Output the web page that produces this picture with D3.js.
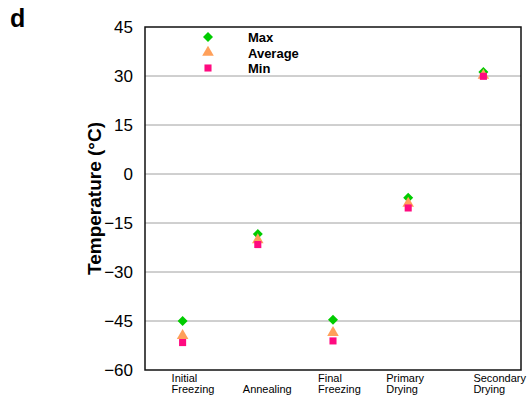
<!DOCTYPE html>
<html>
<head>
<meta charset="utf-8">
<script src="https://cdn.jsdelivr.net/npm/d3@7"></script>
<style>
  body { margin: 0; background: #fff; }
  text { font-family: "Liberation Sans", Arial, sans-serif; }
</style>
</head>
<body>
<div id="graph"></div>
<script>
"use strict";

// data
var stages = ["Initial Freezing", "Annealing", "Final Freezing", "Primary Drying", "Secondary Drying"];
var stageLines = [["Initial", "Freezing"], ["", "Annealing"], ["Final", "Freezing"], ["Primary", "Drying"], ["Secondary", "Drying"]];
var maxTemp = [-45, -18.4, -44.6, -7.3, 31.2];
var avgTemp = [-49.5, -20.2, -48.6, -9.0, 30.2];
var minTemp = [-51.6, -21.6, -51.1, -10.4, 29.9];
var yTicks = [-60, -45, -30, -15, 0, 15, 30, 45];

var width = 530, height = 400;
var margin = {top: 27, left: 145, bottom: 30, right: 9};
var chartWidth = width - margin.left - margin.right;
var chartHeight = height - margin.top - margin.bottom;

var svg = d3.select("#graph").append("svg")
    .attr("width", width)
    .attr("height", height);

var x = d3.scaleBand().domain(stages).range([0, chartWidth]).padding(0);
var y = d3.scaleLinear().domain([-60, 45]).range([chartHeight, 0]);

var chart = svg.append("g")
    .attr("transform", "translate(" + [margin.left, margin.top] + ")");

// gridlines
chart.append("g")
    .selectAll("line")
    .data(yTicks.slice(1, -1))
    .enter().append("line")
    .attr("x1", 0)
    .attr("x2", chartWidth)
    .attr("y1", function (d) { return y(d); })
    .attr("y2", function (d) { return y(d); })
    .attr("stroke", "#a0a0a0")
    .attr("stroke-width", 1);

// y axis labels
var yAxis = d3.axisLeft(y).tickValues(yTicks).tickSize(0).tickPadding(12);
chart.append("g")
    .call(yAxis)
    .call(function (g) { g.select(".domain").remove(); })
    .selectAll("text")
    .attr("font-size", 17)
    .attr("fill", "#000")
    .attr("font-family", "Liberation Sans, Arial, sans-serif");

// frame
chart.append("rect")
    .attr("x", 0)
    .attr("y", 0)
    .attr("width", chartWidth)
    .attr("height", chartHeight)
    .attr("fill", "none")
    .attr("stroke", "#111")
    .attr("stroke-width", 1.5);

// x labels (Excel-style wrapped text, slightly off-centre)
var labelShift = [-11, -15, -15, -22, -10];
var xLabels = chart.append("g")
    .selectAll("text")
    .data(stages)
    .enter().append("text")
    .attr("x", function (d, i) { return x(d) + x.bandwidth() / 2 + labelShift[i]; })
    .attr("y", chartHeight + 12)
    .attr("font-size", 11)
    .attr("fill", "#000");
xLabels.each(function (d, i) {
    var t = d3.select(this);
    stageLines[i].forEach(function (line, j) {
        t.append("tspan")
            .attr("x", t.attr("x"))
            .attr("dy", j === 0 ? 0 : 11)
            .text(line);
    });
});

// series
var cx = function (d, i) { return x(stages[i]) + x.bandwidth() / 2; };
var series = [
    {name: "Max", values: maxTemp, symbol: d3.symbolSquare, size: 50, rotate: 45, color: "#00cc00"},
    {name: "Average", values: avgTemp, symbol: d3.symbolTriangle, size: 58, rotate: 0, color: "#ffa05a"},
    {name: "Min", values: minTemp, symbol: d3.symbolSquare, size: 50, rotate: 0, color: "#ff0a80"}
];

series.forEach(function (s) {
    chart.append("g")
        .selectAll("path")
        .data(s.values)
        .enter().append("path")
        .attr("d", d3.symbol().type(s.symbol).size(s.size))
        .attr("transform", function (d, i) {
            return "translate(" + cx(d, i) + "," + y(d) + ") rotate(" + s.rotate + ")";
        })
        .attr("fill", s.color);
});

// legend
var legend = chart.append("g").attr("transform", "translate(63,10)");
series.forEach(function (s, i) {
    var row = legend.append("g").attr("transform", "translate(0," + (i * 15.5) + ")");
    row.append("path")
        .attr("d", d3.symbol().type(s.symbol).size(s.size))
        .attr("transform", "rotate(" + s.rotate + ")")
        .attr("fill", s.color);
    row.append("text")
        .attr("x", 40)
        .attr("y", 5)
        .attr("font-size", 13)
        .attr("font-weight", "bold")
        .text(s.name);
});

// axis title
svg.append("text")
    .attr("transform", "translate(101," + (margin.top + chartHeight / 2) + ") rotate(-90)")
    .attr("text-anchor", "middle")
    .attr("font-size", 19)
    .attr("font-weight", "bold")
    .text("Temperature (°C)");

// panel letter
svg.append("text")
    .attr("x", 10)
    .attr("y", 27)
    .attr("font-size", 25)
    .attr("font-weight", "bold")
    .text("d");
</script>
</body>
</html>
